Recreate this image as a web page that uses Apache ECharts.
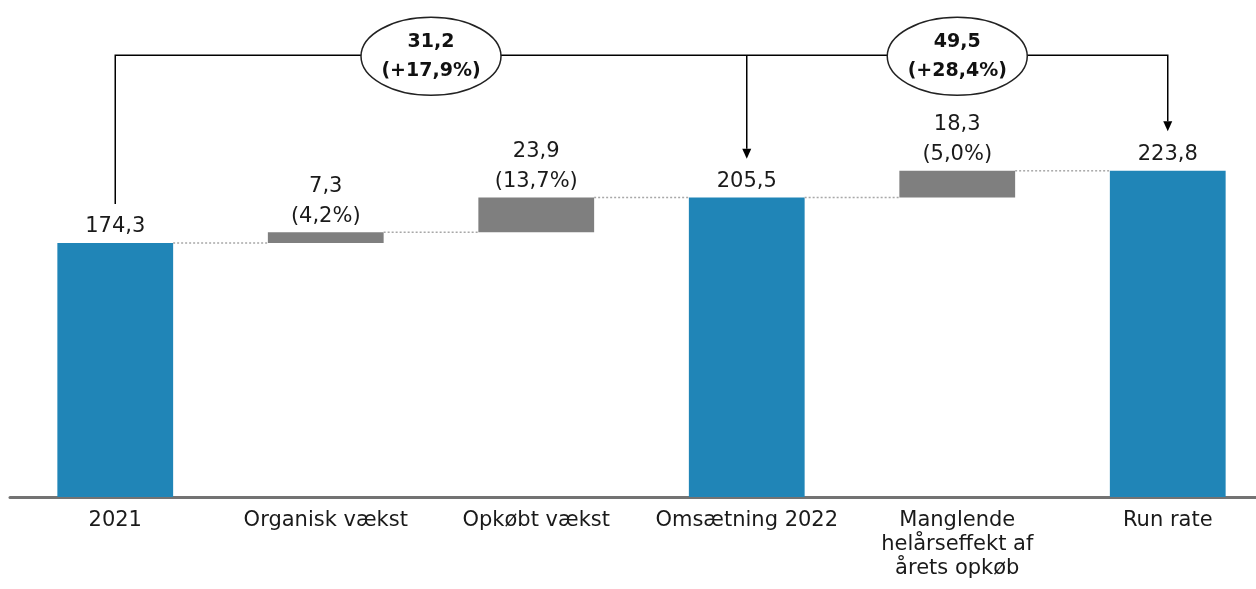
<!DOCTYPE html>
<html>
<head>
<meta charset="utf-8">
<script src="https://cdn.jsdelivr.net/npm/echarts@6/dist/echarts.min.js"></script>
<style>
  html, body { margin: 0; padding: 0; background: #fff; }
  #chart { width: 1256px; height: 589px; }
</style>
</head>
<body>
<div id="chart"></div>
<script>
// data
var categories = ['2021', 'Organisk vækst', 'Opkøbt vækst', 'Omsætning 2022', 'Manglende\nhelårseffekt af\nårets opkøb', 'Run rate'];
var values = [174.3, 7.3, 23.9, 205.5, 18.3, 223.8];
var isTotal = [true, false, false, true, false, true];
var pctLabels = ['', '(4,2%)', '(13,7%)', '', '(5,0%)', ''];
var bracketValues = ['31,2', '49,5'];
var bracketPcts = ['(+17,9%)', '(+28,4%)'];

var FONT = 'DejaVu Sans';
var BLUE = '#2085b7';
var GREY = '#7f7f7f';

function fmt(v) { return v.toFixed(1).replace('.', ','); }

// waterfall base + running top
var bases = [], tops = [];
var running = 0;
values.forEach(function (v, i) {
    if (isTotal[i]) { bases.push(0); running = v; }
    else { bases.push(running); running += v; }
    tops.push(running);
});

var chart = echarts.init(document.getElementById('chart'));

var option = {
    animation: false,
    // grid runs a bit past the right edge, like the original slide
    grid: { left: 10, width: 1263, top: 16, bottom: 92, outerBoundsMode: 'none', containLabel: false },
    xAxis: {
        type: 'category',
        data: categories,
        axisTick: { show: false },
        axisLine: { lineStyle: { color: '#737373', width: 3 } },
        axisLabel: {
            interval: 0,
            margin: 12,
            color: '#1a1a1a',
            fontFamily: FONT,
            fontSize: 21,
            lineHeight: 24
        }
    },
    yAxis: {
        type: 'value',
        min: 0,
        max: 330,
        show: false
    },
    series: [
        {
            name: 'base',
            type: 'bar',
            stack: 'w',
            barWidth: '55%',
            silent: true,
            itemStyle: { color: 'transparent' },
            data: bases
        },
        {
            name: 'value',
            type: 'bar',
            stack: 'w',
            barWidth: '55%',
            data: values.map(function (v, i) {
                return { value: v, itemStyle: { color: isTotal[i] ? BLUE : GREY } };
            }),
            label: {
                show: true,
                position: 'top',
                distance: 1,
                color: '#1a1a1a',
                fontFamily: FONT,
                fontSize: 21,
                lineHeight: 30,
                formatter: function (p) {
                    var i = p.dataIndex;
                    return isTotal[i] ? fmt(values[i]) : fmt(values[i]) + '\n' + pctLabels[i];
                }
            }
        },
        {
            // connectors and brackets
            type: 'custom',
            silent: true,
            clip: false,
            z: 10,
            data: [[0, 0]],
            renderItem: function (params, api) {
                var c = function (i, v) { return api.coord([i, v]); };
                var bw = api.size([1, 0])[0] * 0.55;
                var children = [];
                var i;
                for (i = 0; i < values.length - 1; i++) {
                    var a = c(i, tops[i]), b = c(i + 1, tops[i]);
                    children.push({
                        type: 'line',
                        shape: { x1: a[0] + bw / 2, y1: a[1], x2: b[0] - bw / 2, y2: b[1] },
                        style: { stroke: '#a8a8a8', lineWidth: 1.5, lineDash: [2, 2] }
                    });
                }
                var lvl = 303, head = 10;
                var s0 = c(0, 201), l0 = c(0, lvl), l3 = c(3, lvl), l5 = c(5, lvl);
                var t3 = c(3, 232), t5 = c(5, 251);
                children.push({
                    type: 'polyline',
                    shape: { points: [s0, l0, l5, [t5[0], t5[1] - head]] },
                    style: { stroke: '#000', lineWidth: 1.5, fill: null }
                });
                children.push({
                    type: 'line',
                    shape: { x1: l3[0], y1: l3[1], x2: t3[0], y2: t3[1] - head },
                    style: { stroke: '#000', lineWidth: 1.5 }
                });
                [t3, t5].forEach(function (t) {
                    children.push({
                        type: 'polygon',
                        shape: { points: [[t[0] - 4.5, t[1] - head], [t[0] + 4.5, t[1] - head], [t[0], t[1]]] },
                        style: { fill: '#000' }
                    });
                });
                var m1 = c(1, lvl), m2 = c(2, lvl), m4 = c(4, lvl);
                var centers = [[(m1[0] + m2[0]) / 2, m1[1] + 1], [m4[0], m4[1] + 1]];
                centers.forEach(function (ctr, k) {
                    children.push({
                        type: 'ellipse',
                        shape: { cx: ctr[0], cy: ctr[1], rx: 70, ry: 39 },
                        style: { fill: '#fff', stroke: '#222', lineWidth: 1.5 }
                    });
                    children.push({
                        type: 'text',
                        style: {
                            text: bracketValues[k] + '\n' + bracketPcts[k],
                            x: ctr[0], y: ctr[1],
                            align: 'center', verticalAlign: 'middle',
                            fontFamily: FONT, fontSize: 19, fontWeight: 'bold',
                            lineHeight: 29, fill: '#111'
                        }
                    });
                });
                return { type: 'group', children: children };
            }
        }
    ]
};

chart.setOption(option);
window.addEventListener('resize', function () { chart.resize(); });
</script>
</body>
</html>
